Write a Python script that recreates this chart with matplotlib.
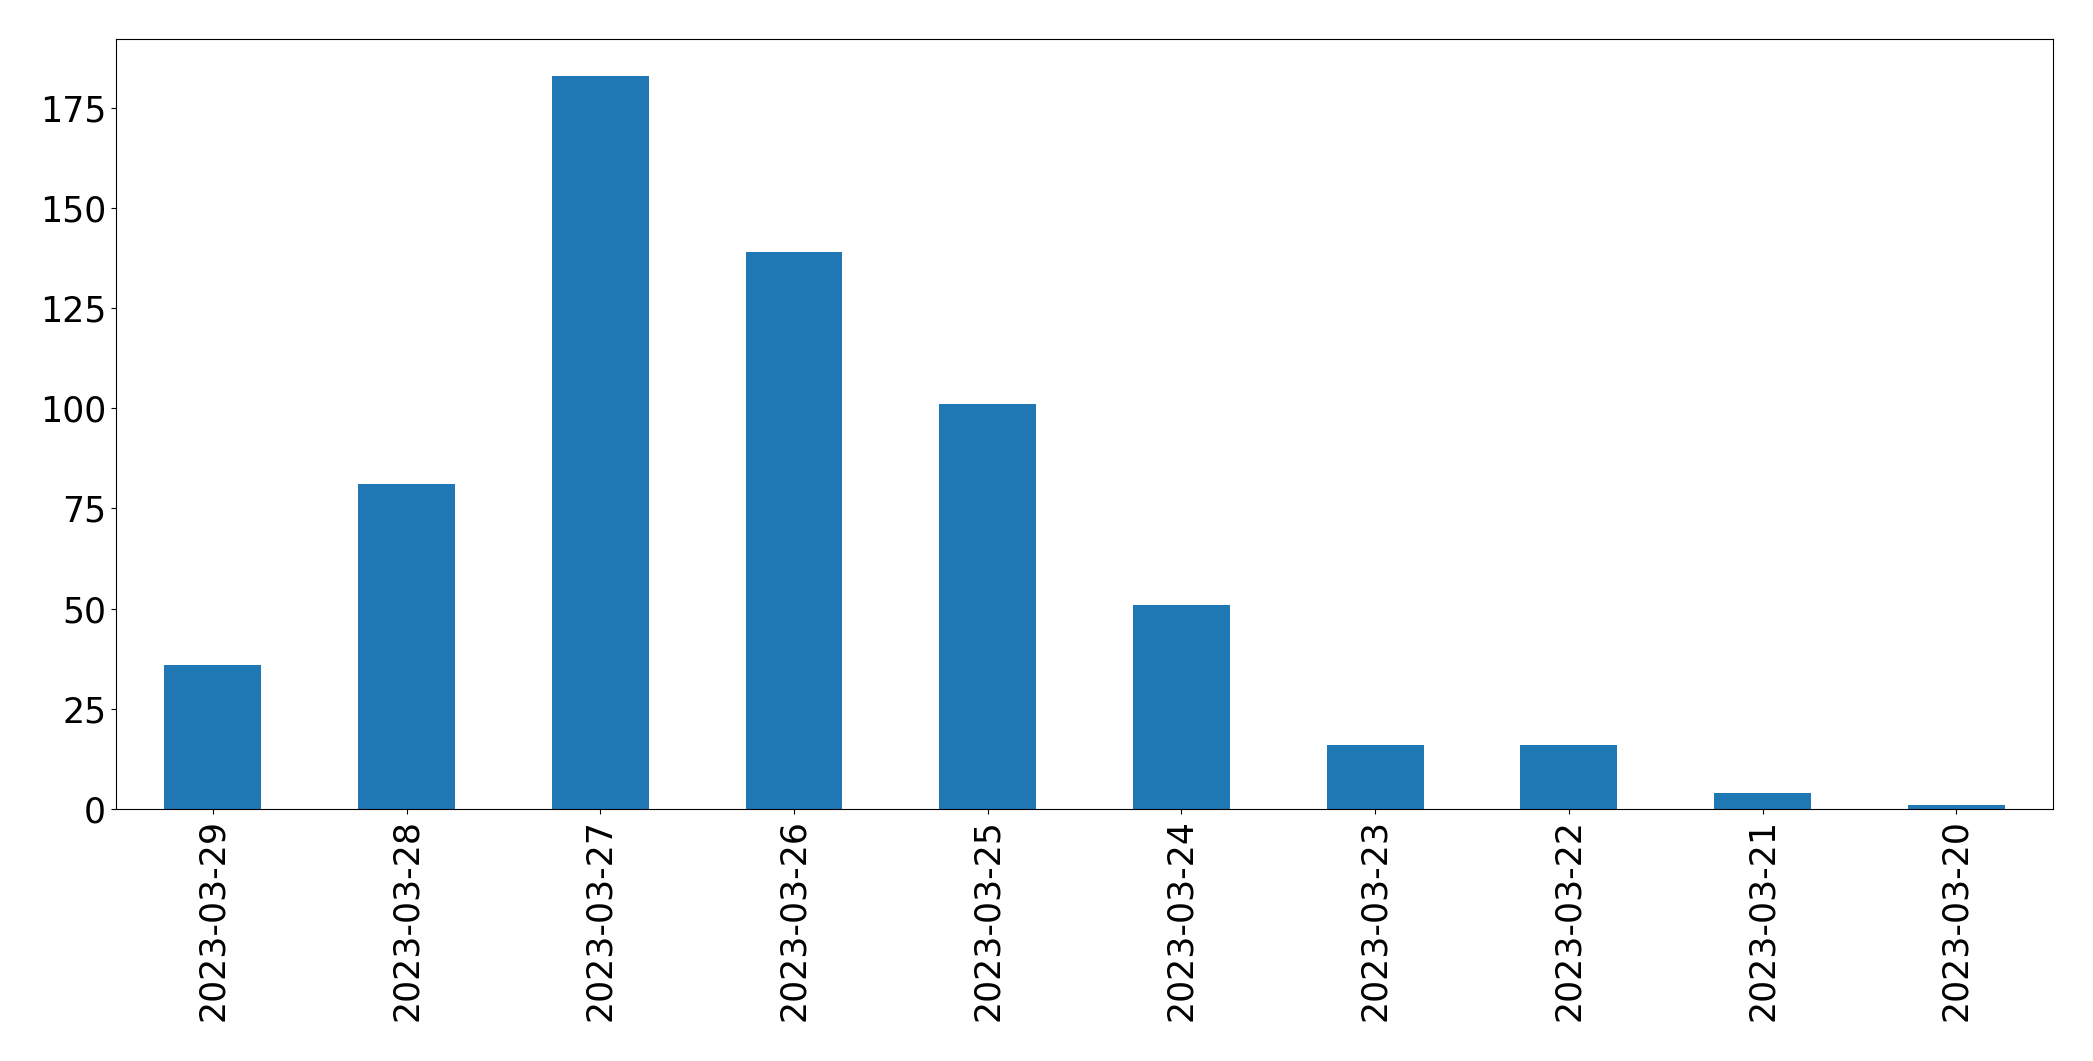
import pandas as pd
import numpy as np
import matplotlib
matplotlib.use('Agg')
import matplotlib.pyplot as plt

dates = ['2023-03-29', '2023-03-28', '2023-03-27', '2023-03-26', '2023-03-25',
         '2023-03-24', '2023-03-23', '2023-03-22', '2023-03-21', '2023-03-20']
counts = [36, 81, 183, 139, 101, 51, 16, 16, 4, 1]

s = pd.Series(counts, index=dates)

fig = plt.figure(figsize=(20.93, 10.61), dpi=100)
ax = fig.add_axes([0.0554, 0.2375, 0.9256, 0.7257])
s.plot.bar(ax=ax, color='#1f77b4')
ax.tick_params(axis='both', labelsize=25)
ax.tick_params(axis='x', labelrotation=90)

fig.savefig('out.png', dpi=100)
